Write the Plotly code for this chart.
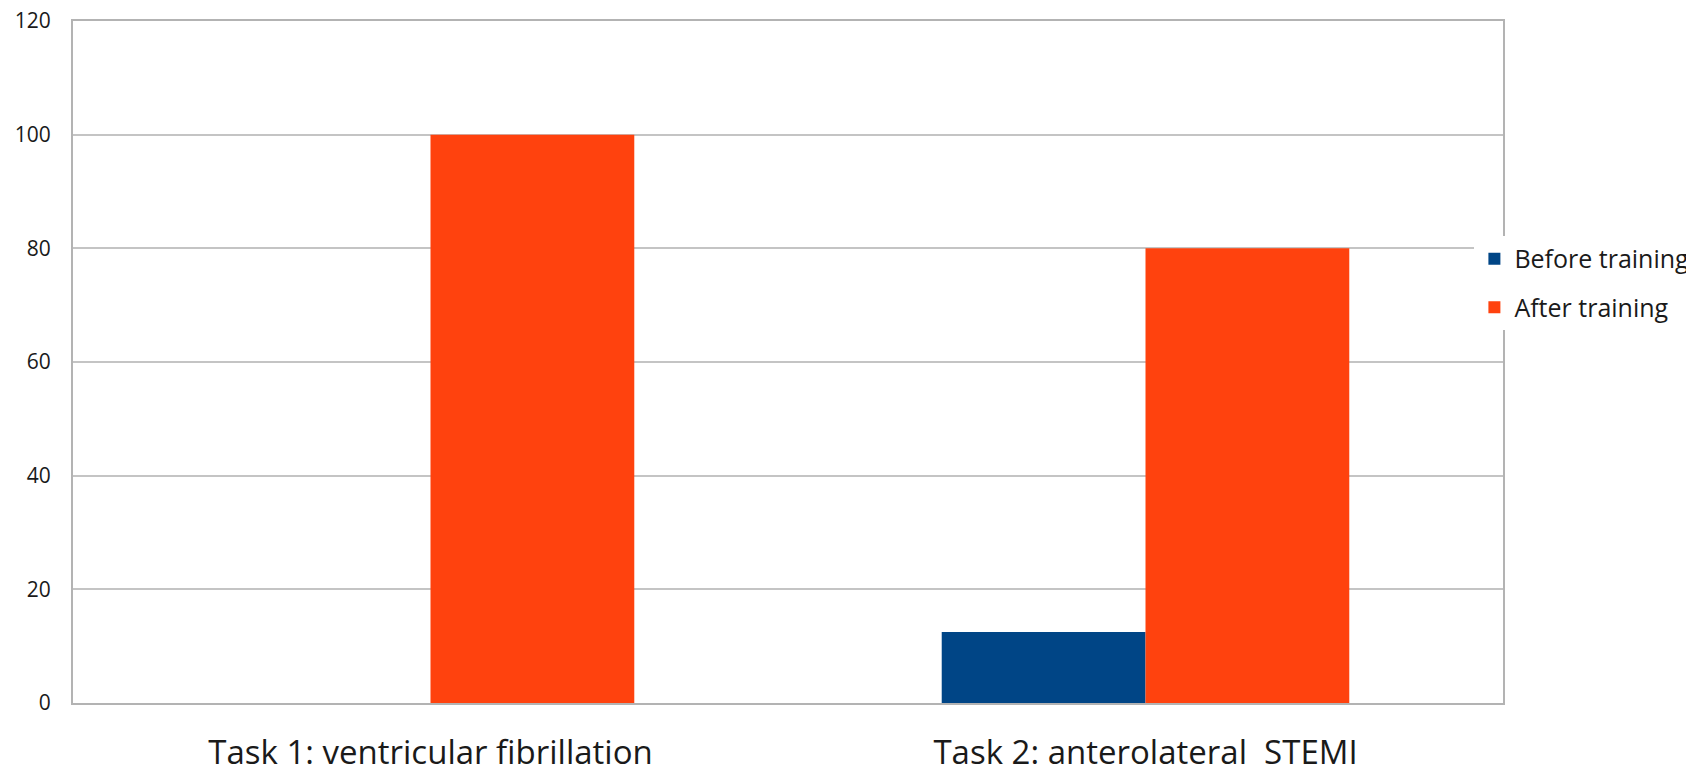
import plotly.graph_objects as go

categories = ["Task 1: ventricular fibrillation", "Task 2: anterolateral  STEMI"]
before_training = [0, 12.5]
after_training = [100, 80]
y_ticks = [0, 20, 40, 60, 80, 100, 120]

fig = go.Figure()
fig.add_trace(go.Bar(name="Before training", x=categories, y=before_training,
                     marker=dict(color="#004586", line=dict(width=0)), legendgroup="a"))
fig.add_trace(go.Bar(name="After training", x=categories, y=after_training,
                     marker=dict(color="#ff420e", line=dict(width=0)), legendgroup="b"))

fig.update_layout(
    width=1686, height=771,
    margin=dict(l=65, r=191, t=13, b=76, autoexpand=False),
    paper_bgcolor="white", plot_bgcolor="white",
    barmode="group", bargap=0.43, bargroupgap=0,
    font=dict(family="Open Sans, sans-serif", color="#1a1a1a"),
    showlegend=True,
    legend=dict(x=0.98, xanchor="left", y=0.616, yanchor="middle",
                bgcolor="white", font=dict(size=25, color="#1a1a1a"),
                traceorder="grouped", tracegroupgap=13),
    xaxis=dict(showline=True, linecolor="#b3b3b3", linewidth=2, mirror=True,
               tickfont=dict(size=33), ticks="", ticklabelstandoff=19,
               ticklabeloverflow="allow"),
    yaxis=dict(range=[0, 120], tickvals=y_ticks, showline=True, linecolor="#b3b3b3",
               linewidth=2, mirror=True, gridcolor="#c4c4c4", gridwidth=1.5,
               tickfont=dict(size=21), ticks="", ticklabelstandoff=16, zeroline=False,
               ticklabeloverflow="allow"),
)

fig.write_html("out.html")
